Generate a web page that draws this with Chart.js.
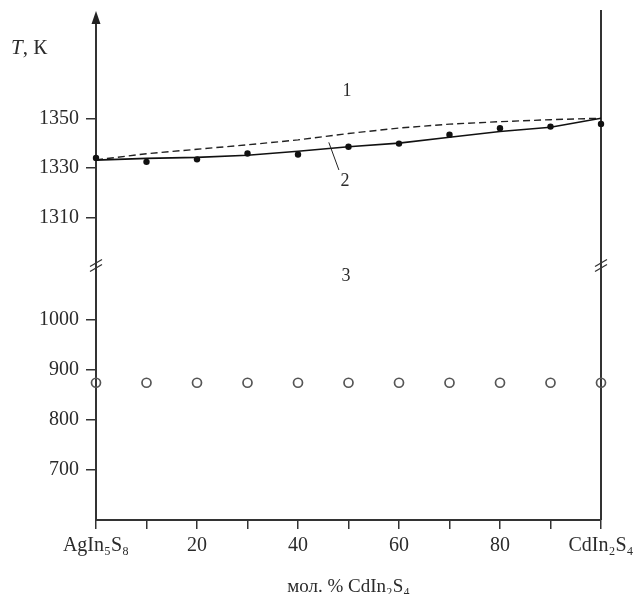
<!DOCTYPE html>
<html>
<head>
<meta charset="utf-8">
<script src="https://cdn.jsdelivr.net/npm/chart.js@4.4.1/dist/chart.umd.min.js"></script>
<style>
html,body{margin:0;padding:0;background:#fff;}
#wrap{width:642px;height:594px;}
</style>
</head>
<body>
<div id="wrap"><canvas id="c" width="642" height="594"></canvas></div>
<script>
// ---- data ----
const compositions = [0, 10, 20, 30, 40, 50, 60, 70, 80, 90, 100];   // мол. % CdIn2S4
const curveSolid   = [1333.3, 1334.0, 1334.4, 1335.3, 1336.9, 1338.7, 1340.2, 1342.6, 1344.9, 1346.6, 1350.3]; // line 2
const curveDashed  = [1333.4, 1335.9, 1337.7, 1339.5, 1341.5, 1344.1, 1346.3, 1347.9, 1348.9, 1349.7, 1350.3]; // dashed line
const effectsHigh  = [1334.2, 1332.6, 1333.6, 1336.0, 1335.6, 1338.7, 1340.0, 1343.6, 1346.2, 1346.9, 1348.0];   // filled dots
const effectsLow   = [874, 874, 874, 874, 874, 874, 874, 874, 874, 874, 874];                               // open circles
const lowTicks  = [700, 800, 900, 1000];
const highTicks = [1310, 1330, 1350];
const xLabelValues = [0, 20, 40, 60, 80, 100];
const xLabelTexts  = ['AgIn₅S₈', '20', '40', '60', '80', 'CdIn₂S₄'];
const regionLabels = [
  {text: '1', x: 49.7, T: 1361.3},
  {text: '2', x: 49.3, T: 1324.9},
  {text: '3', x: 49.5, T: 1086}
];
const leader2 = [{x: 46.1, T: 1340.5}, {x: 48.1, T: 1329.3}];
const breakT = 1108;

// ---- broken axis transform ----
const HIGH_BASE = 1203.7, HIGH_SCALE = 4.92, SPLIT = 1150;
function tv(T){ return T < SPLIT ? T : HIGH_BASE + (T - 1310) * HIGH_SCALE; }
function inv(v){ return v < SPLIT ? v : 1310 + (v - HIGH_BASE) / HIGH_SCALE; }

const FONT = "'Liberation Serif', 'Times New Roman', serif";
const INK = '#2b2b2b';

const toPts = arr => compositions.map((x, i) => ({x: x, y: tv(arr[i])}));

const decor = {
  id: 'decor',
  beforeDatasetsDraw(chart){
    const ctx = chart.ctx, a = chart.chartArea;
    ctx.save();
    ctx.strokeStyle = '#333';
    ctx.lineWidth = 2;
    ctx.beginPath();
    ctx.moveTo(a.right, 10);
    ctx.lineTo(a.right, a.bottom);
    ctx.stroke();
    ctx.restore();
  },
  afterDatasetsDraw(chart){
    const ctx = chart.ctx, a = chart.chartArea;
    const xs = chart.scales.x, ys = chart.scales.y;
    ctx.save();
    // arrow on left axis
    ctx.fillStyle = '#222';
    ctx.beginPath();
    ctx.moveTo(a.left, 11);
    ctx.lineTo(a.left - 4.5, 24);
    ctx.lineTo(a.left + 4.5, 24);
    ctx.closePath();
    ctx.fill();
    // break marks
    const by = ys.getPixelForValue(breakT);
    ctx.strokeStyle = '#333';
    ctx.lineWidth = 1.3;
    [a.left, a.right].forEach(px => {
      [-2.5, 2.5].forEach(off => {
        ctx.beginPath();
        ctx.moveTo(px - 6, by + off + 3.5);
        ctx.lineTo(px + 6, by + off - 3.5);
        ctx.stroke();
      });
    });
    // region labels
    ctx.fillStyle = INK;
    ctx.font = '18px ' + FONT;
    ctx.textAlign = 'center';
    ctx.textBaseline = 'middle';
    regionLabels.forEach(l => {
      ctx.fillText(l.text, xs.getPixelForValue(l.x), ys.getPixelForValue(tv(l.T)));
    });
    // leader line for 2
    ctx.strokeStyle = '#222';
    ctx.lineWidth = 1;
    ctx.beginPath();
    ctx.moveTo(xs.getPixelForValue(leader2[0].x), ys.getPixelForValue(tv(leader2[0].T)));
    ctx.lineTo(xs.getPixelForValue(leader2[1].x), ys.getPixelForValue(tv(leader2[1].T)));
    ctx.stroke();
    // y axis title "T, К"
    ctx.textAlign = 'left';
    ctx.textBaseline = 'middle';
    ctx.font = 'italic 21px ' + FONT;
    ctx.fillText('T', 11, 48);
    const w = ctx.measureText('T').width;
    ctx.font = '21px ' + FONT;
    ctx.fillText(', К', 11 + w, 48);
    ctx.restore();
  }
};

new Chart(document.getElementById('c'), {
  type: 'line',
  data: {
    datasets: [
      {data: toPts(curveSolid), borderColor: '#111', borderWidth: 1.6, pointRadius: 0, tension: 0, clip: false},
      {data: toPts(curveDashed), borderColor: '#222', borderWidth: 1.4, borderDash: [7, 4], pointRadius: 0, tension: 0, clip: false},
      {data: toPts(effectsHigh), showLine: false, pointRadius: 3.2, pointStyle: 'circle', backgroundColor: '#111', borderColor: '#111', borderWidth: 0, clip: false},
      {data: toPts(effectsLow), showLine: false, pointRadius: 4.5, pointStyle: 'circle', backgroundColor: 'rgba(255,255,255,0)', borderColor: '#555', borderWidth: 1.7, clip: false}
    ]
  },
  options: {
    responsive: false,
    animation: false,
    layout: {padding: {left: 0, right: 41, top: 12, bottom: 0}},
    plugins: {legend: {display: false}, tooltip: {enabled: false}},
    scales: {
      x: {
        type: 'linear', min: 0, max: 100,
        afterFit: s => { s.height = 74; },
        afterBuildTicks: s => { s.ticks = compositions.map(v => ({value: v})); },
        border: {display: true, color: '#333', width: 2},
        grid: {drawOnChartArea: false, drawTicks: true, tickLength: 9, tickColor: '#333', lineWidth: 1.5},
        ticks: {
          autoSkip: false, maxRotation: 0, padding: 5, color: INK,
          font: {family: FONT, size: 20},
          callback: v => { const i = xLabelValues.indexOf(v); return i >= 0 ? xLabelTexts[i] : ''; }
        },
        title: {display: true, text: 'мол. % CdIn₂S₄', color: INK, font: {family: FONT, size: 19}, padding: {top: 0, bottom: -4}}
      },
      y: {
        type: 'linear', min: 600, max: 1600,
        afterFit: s => { s.width = 96; },
        afterBuildTicks: s => { s.ticks = lowTicks.concat(highTicks.map(tv)).map(v => ({value: v})); },
        border: {display: true, color: '#333', width: 2},
        grid: {drawOnChartArea: false, drawTicks: true, tickLength: 10, tickColor: '#333', lineWidth: 1.5},
        ticks: {
          autoSkip: false, padding: 7, color: INK,
          font: {family: FONT, size: 20},
          callback: v => String(Math.round(inv(v)))
        }
      }
    }
  },
  plugins: [decor]
});
</script>
</body>
</html>
